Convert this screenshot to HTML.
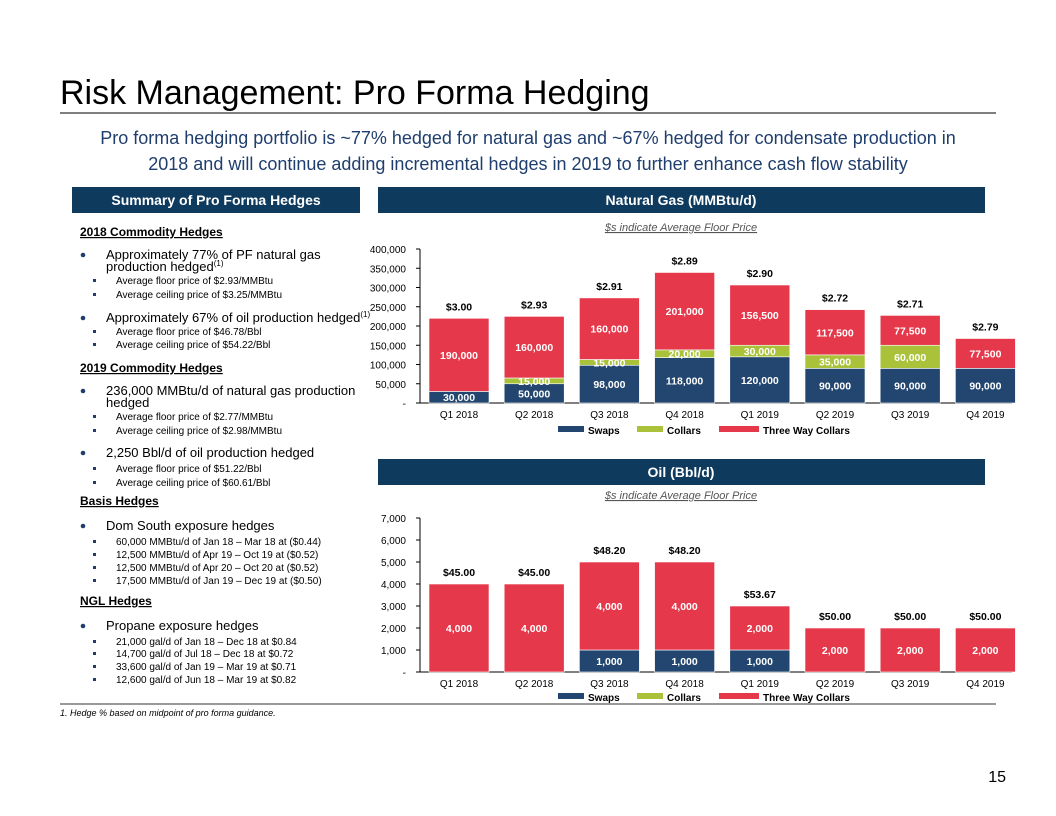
<!DOCTYPE html>
<html><head><meta charset="utf-8">
<style>
body{margin:0;background:#fff;}
svg{display:block;font-family:"Liberation Sans",Arial,sans-serif;}
</style></head>
<body>
<svg id="s" width="1056" height="816" viewBox="0 0 1056 816" xmlns="http://www.w3.org/2000/svg">
<text x="60" y="104" font-size="34" fill="#000">Risk Management: Pro Forma Hedging</text>
<line x1="60" y1="113" x2="996" y2="113" stroke="#333" stroke-width="1.2"/>
<text x="528" y="144" font-size="18" fill="#1f3e6e" text-anchor="middle">Pro forma hedging portfolio is ~77% hedged for natural gas and ~67% hedged for condensate production in</text>
<text x="528" y="170" font-size="18" fill="#1f3e6e" text-anchor="middle">2018 and will continue adding incremental hedges in 2019 to further enhance cash flow stability</text>

<rect x="72" y="187" width="288" height="26" fill="#0e3a5e"/>
<text x="216" y="205" font-size="14" font-weight="bold" fill="#fff" text-anchor="middle">Summary of Pro Forma Hedges</text>
<rect x="378" y="187" width="607" height="26" fill="#0e3a5e"/>
<text x="681" y="205" font-size="14" font-weight="bold" fill="#fff" text-anchor="middle">Natural Gas (MMBtu/d)</text>
<rect x="378" y="459" width="607" height="26" fill="#0e3a5e"/>
<text x="681" y="477" font-size="14" font-weight="bold" fill="#fff" text-anchor="middle">Oil (Bbl/d)</text>

<text x="681" y="231" font-size="11" font-style="italic" fill="#555" text-anchor="middle" text-decoration="underline">$s indicate Average Floor Price</text>
<text x="681" y="499" font-size="11" font-style="italic" fill="#555" text-anchor="middle" text-decoration="underline">$s indicate Average Floor Price</text>

<g id="left" font-size="13" fill="#000">
<text x="80" y="236" font-size="12" font-weight="bold" text-decoration="underline">2018 Commodity Hedges</text>
<text x="106" y="259">Approximately 77% of PF natural gas</text>
<text x="106" y="271">production hedged<tspan font-size="8" dy="-5">(1)</tspan></text>
<text x="116" y="284" font-size="10">Average floor price of $2.93/MMBtu</text>
<text x="116" y="298" font-size="10">Average ceiling price of $3.25/MMBtu</text>
<text x="106" y="322">Approximately 67% of oil production hedged<tspan font-size="8" dy="-5">(1)</tspan></text>
<text x="116" y="335" font-size="10">Average floor price of $46.78/Bbl</text>
<text x="116" y="348" font-size="10">Average ceiling price of $54.22/Bbl</text>
<text x="80" y="372" font-size="12" font-weight="bold" text-decoration="underline">2019 Commodity Hedges</text>
<text x="106" y="395">236,000 MMBtu/d of natural gas production</text>
<text x="106" y="407">hedged</text>
<text x="116" y="420" font-size="10">Average floor price of $2.77/MMBtu</text>
<text x="116" y="434" font-size="10">Average ceiling price of $2.98/MMBtu</text>
<text x="106" y="457">2,250 Bbl/d of oil production hedged</text>
<text x="116" y="472" font-size="10">Average floor price of $51.22/Bbl</text>
<text x="116" y="486" font-size="10">Average ceiling price of $60.61/Bbl</text>
<text x="80" y="505" font-size="12" font-weight="bold" text-decoration="underline">Basis Hedges</text>
<text x="106" y="530">Dom South exposure hedges</text>
<text x="116" y="545" font-size="10">60,000 MMBtu/d of Jan 18 – Mar 18 at ($0.44)</text>
<text x="116" y="558" font-size="10">12,500 MMBtu/d of Apr 19 – Oct 19 at ($0.52)</text>
<text x="116" y="571" font-size="10">12,500 MMBtu/d of Apr 20 – Oct 20 at ($0.52)</text>
<text x="116" y="584" font-size="10">17,500 MMBtu/d of Jan 19 – Dec 19 at ($0.50)</text>
<text x="80" y="605" font-size="12" font-weight="bold" text-decoration="underline">NGL Hedges</text>
<text x="106" y="630">Propane exposure hedges</text>
<text x="116" y="645" font-size="10">21,000 gal/d of Jan 18 – Dec 18 at $0.84</text>
<text x="116" y="657" font-size="10">14,700 gal/d of Jul 18 – Dec 18 at $0.72</text>
<text x="116" y="670" font-size="10">33,600 gal/d of Jan 19 – Mar 19 at $0.71</text>
<text x="116" y="683" font-size="10">12,600 gal/d of Jun 18 – Mar 19 at $0.82</text>
<g fill="#1f3e6e">
<circle cx="83" cy="255" r="2.3"/><circle cx="83" cy="318" r="2.3"/><circle cx="83" cy="391" r="2.3"/><circle cx="83" cy="453" r="2.3"/><circle cx="83" cy="526" r="2.3"/><circle cx="83" cy="626" r="2.3"/>
<rect x="93" y="279" width="3" height="3"/><rect x="93" y="293" width="3" height="3"/><rect x="93" y="330" width="3" height="3"/><rect x="93" y="343" width="3" height="3"/>
<rect x="93" y="415" width="3" height="3"/><rect x="93" y="429" width="3" height="3"/><rect x="93" y="467" width="3" height="3"/><rect x="93" y="481" width="3" height="3"/>
<rect x="93" y="540" width="3" height="3"/><rect x="93" y="553" width="3" height="3"/><rect x="93" y="566" width="3" height="3"/><rect x="93" y="579" width="3" height="3"/>
<rect x="93" y="640" width="3" height="3"/><rect x="93" y="652" width="3" height="3"/><rect x="93" y="665" width="3" height="3"/><rect x="93" y="678" width="3" height="3"/>
</g>
</g>

<line x1="60" y1="704" x2="996" y2="704" stroke="#333" stroke-width="1"/>
<text x="60" y="716" font-size="9" font-style="italic" fill="#000">1.   Hedge % based on midpoint of pro forma guidance.</text>
<text x="1006" y="782" font-size="16" fill="#000" text-anchor="end">15</text>
<g id="gas"></g>
<g id="oil"></g>
</svg>
<script>
const categories=["Q1 2018","Q2 2018","Q3 2018","Q4 2018","Q1 2019","Q2 2019","Q3 2019","Q4 2019"];
const gasSwaps=[30000,50000,98000,118000,120000,90000,90000,90000];
const gasCollars=[0,15000,15000,20000,30000,35000,60000,0];
const gasThreeWay=[190000,160000,160000,201000,156500,117500,77500,77500];
const gasPrices=["$3.00","$2.93","$2.91","$2.89","$2.90","$2.72","$2.71","$2.79"];
const gasTicks=[0,50000,100000,150000,200000,250000,300000,350000,400000];
const oilSwaps=[0,0,1000,1000,1000,0,0,0];
const oilCollars=[0,0,0,0,0,0,0,0];
const oilThreeWay=[4000,4000,4000,4000,2000,2000,2000,2000];
const oilPrices=["$45.00","$45.00","$48.20","$48.20","$53.67","$50.00","$50.00","$50.00"];
const oilTicks=[0,1000,2000,3000,4000,5000,6000,7000];
const NS="http://www.w3.org/2000/svg";
const colors=["#22466f","#a9c23a","#e5384b"];
const seriesNames=["Swaps","Collars","Three Way Collars"];
function mk(p,t,a,txt){const e=document.createElementNS(NS,t);for(const k in a)e.setAttribute(k,a[k]);if(txt!==undefined)e.textContent=txt;p.appendChild(e);return e;}
function fmt(v){return v===0?"-":v.toLocaleString("en-US");}
function draw(id,series,prices,ticks,yTop,yBot,maxV,legY){
  const g=document.getElementById(id);
  const x0=420,step=75.2,bw=60;
  const xc=i=>459+i*step;
  const y=v=>yBot-(v/maxV)*(yBot-yTop);
  mk(g,"line",{x1:x0,y1:yTop,x2:x0,y2:yBot,stroke:"#000","stroke-width":1});
  mk(g,"line",{x1:x0,y1:yBot,x2:1012,y2:yBot,stroke:"#000","stroke-width":1});
  ticks.forEach(t=>{
    mk(g,"line",{x1:x0-4,y1:y(t),x2:x0,y2:y(t),stroke:"#000"});
    const l=mk(g,"text",{x:x0-14,y:y(t)+4,"font-size":10,"text-anchor":"end",fill:"#000"},fmt(t));
    
    
  });
  categories.forEach((c,i)=>{
    let base=0;
    series.forEach((s,k)=>{
      const v=s[i]; if(!v)return;
      const r=mk(g,"rect",{x:xc(i)-bw/2,y:y(base+v),width:bw,height:y(base)-y(base+v),fill:colors[k],stroke:"#fff","stroke-width":0.6});
      
      
      const lb=mk(g,"text",{x:xc(i),y:(y(base)+y(base+v))/2+4,"font-size":10.5,"font-weight":"bold","text-anchor":"middle",fill:"#fff"},v.toLocaleString("en-US"));
      
      
      base+=v;
    });
    const pl=mk(g,"text",{x:xc(i),y:y(base)-8,"font-size":10.5,"font-weight":"bold","text-anchor":"middle",fill:"#000"},prices[i]);
    
    
    const cl=mk(g,"text",{x:xc(i),y:yBot+15,"font-size":10,"text-anchor":"middle",fill:"#000"},c);
    
    
  });
  const lx=[558,637,719];
  seriesNames.forEach((n,k)=>{
    const r=mk(g,"rect",{x:lx[k],y:legY-4,width:k==2?40:26,height:6,fill:colors[k]});
    
    
    const t=mk(g,"text",{x:lx[k]+(k==2?44:30),y:legY+4,"font-size":10,"font-weight":"bold",fill:"#000"},n);
    
    
  });
}
draw("gas",[gasSwaps,gasCollars,gasThreeWay],gasPrices,gasTicks,249,403,400000,430);
draw("oil",[oilSwaps,oilCollars,oilThreeWay],oilPrices,oilTicks,518,672,7000,697);
</script>
</body></html>
